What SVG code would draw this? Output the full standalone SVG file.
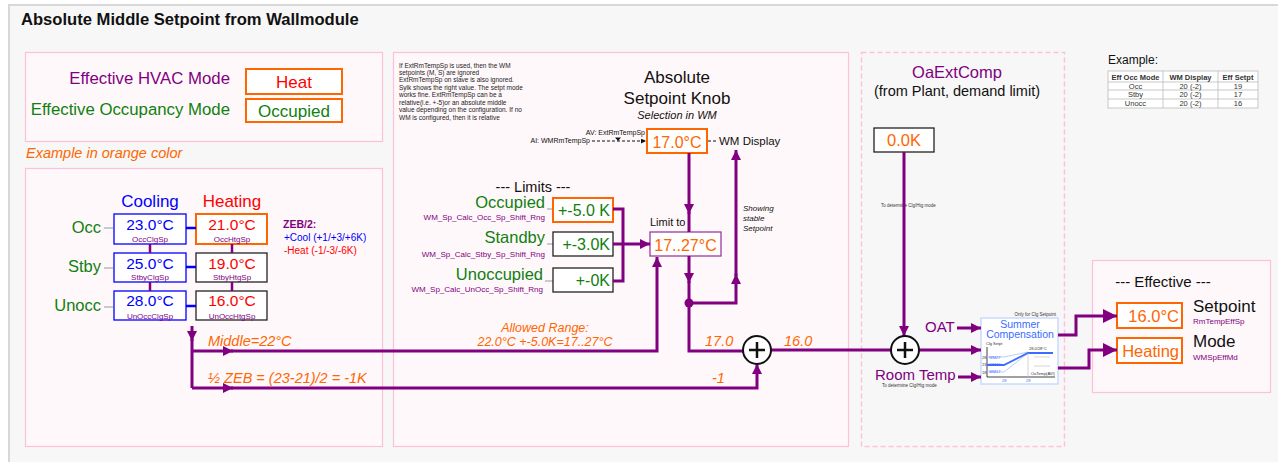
<svg xmlns="http://www.w3.org/2000/svg" width="1278" height="462" viewBox="0 0 1278 462">
<style>
text{font-family:"Liberation Sans",Arial,sans-serif}
.pu{fill:#800080}.gr{fill:#108010}.or{fill:#ff6600}.rd{fill:#ff0000}.bl{fill:#0000ff}.bk{fill:#111}
.it{font-style:italic}.b{font-weight:bold}
.mid{text-anchor:middle}.end{text-anchor:end}
.panel{fill:#fff8fa;stroke:#ffc0dc;stroke-width:1.2}
.box{fill:#fff;stroke:#222;stroke-width:1.3}
.obox{fill:#fff;stroke:#ff6600;stroke-width:2}
.cbox{fill:#fff;stroke:#0000ff;stroke-width:1.3}
.pbox{fill:#fff;stroke:#9b3aa0;stroke-width:1.3}
.wire{fill:none;stroke:#800080;stroke-width:3}
.arr{fill:none;stroke:#800080;stroke-width:3;marker-end:url(#ah)}
.arrL{fill:none;stroke:#800080;stroke-width:3;marker-end:url(#ahL)}
.tick{stroke:#999;stroke-width:1}
.tb{fill:#fff;stroke:#bbb;stroke-width:0.8}
</style>
<defs>
<marker id="ah" viewBox="0 0 10 10" refX="10" refY="5" markerWidth="10" markerHeight="10" orient="auto" markerUnits="userSpaceOnUse"><path d="M0,0L10,5L0,10Z" fill="#800080"/></marker>
<marker id="ahL" viewBox="0 0 14 14" refX="14" refY="7" markerWidth="14" markerHeight="14" orient="auto" markerUnits="userSpaceOnUse"><path d="M0,0L14,7L0,14Z" fill="#800080"/></marker>
<marker id="ahS" viewBox="0 0 6 6" refX="6" refY="3" markerWidth="5" markerHeight="5" orient="auto" markerUnits="userSpaceOnUse"><path d="M0,0L6,3L0,6Z" fill="#111"/></marker>
</defs>
<rect x="0" y="0" width="1278" height="462" fill="#fff"/>
<rect x="9" y="5" width="1290" height="480" fill="#f7f7f7" stroke="#d8d8d8" stroke-width="2"/>
<text x="21" y="24.5" font-size="16.6" class="b bk">Absolute Middle Setpoint from Wallmodule</text>

<!-- panels -->
<rect class="panel" x="25.5" y="52.5" width="357" height="89"/>
<rect class="panel" x="25.5" y="168.5" width="357" height="278"/>
<rect class="panel" x="393.5" y="52.5" width="455" height="394"/>
<rect x="861.5" y="52.5" width="203" height="394" fill="none" stroke="#ffc0dc" stroke-width="1.5" stroke-dasharray="5,3"/>
<rect class="panel" x="1092.5" y="260.5" width="178" height="132"/>

<g id="modes">
<text x="230" y="84" font-size="16.8" class="pu end">Effective HVAC Mode</text>
<text x="230" y="115" font-size="16.8" class="gr end">Effective Occupancy Mode</text>
<rect class="obox" x="246" y="69" width="96" height="25"/>
<text x="294" y="88" font-size="17" class="rd mid">Heat</text>
<rect class="obox" x="246" y="99" width="96" height="23"/>
<text x="294" y="117" font-size="17" class="gr mid">Occupied</text>
</g>
<text x="26" y="158" font-size="14.5" class="or it">Example in orange color</text>

<g id="setpoints">
<text x="150" y="207" font-size="17" class="bl mid">Cooling</text>
<text x="232" y="207" font-size="17" class="rd mid">Heating</text>
<text x="101" y="233" font-size="16.5" class="gr end">Occ</text>
<text x="101" y="272" font-size="16.5" class="gr end">Stby</text>
<text x="101" y="311" font-size="16.5" class="gr end">Unocc</text>
<path class="tick" d="M104,228H113M104,268H113M104,307H113"/>
<rect class="cbox" x="114" y="214" width="72" height="30"/>
<rect class="cbox" x="114" y="253" width="72" height="29"/>
<rect class="cbox" x="114" y="291" width="72" height="29"/>
<rect class="obox" x="196" y="214" width="71" height="30"/>
<rect class="box" x="196" y="253" width="71" height="29"/>
<rect class="box" x="196" y="291" width="71" height="29"/>
<text x="150" y="230" font-size="15.5" class="bl mid">23.0°C</text>
<text x="150" y="242" font-size="8" class="pu mid">OccClgSp</text>
<text x="150" y="268.5" font-size="15.5" class="bl mid">25.0°C</text>
<text x="150" y="280" font-size="8" class="pu mid">StbyClgSp</text>
<text x="150" y="306" font-size="15.5" class="bl mid">28.0°C</text>
<text x="150" y="318.5" font-size="8" class="pu mid">UnOccClgSp</text>
<text x="232" y="230" font-size="15.5" class="rd mid">21.0°C</text>
<text x="232" y="242" font-size="8" class="pu mid">OccHtgSp</text>
<text x="232" y="268.5" font-size="15.5" class="rd mid">19.0°C</text>
<text x="232" y="280" font-size="8" class="pu mid">StbyHtgSp</text>
<text x="232" y="306" font-size="15.5" class="rd mid">16.0°C</text>
<text x="232" y="318.5" font-size="8" class="pu mid">UnOccHtgSp</text>
<path d="M186,228H196M186,267H196M186,306H196" stroke="#0000ff" stroke-width="2.5"/>
<path d="M150,244V253M150,282V291M232,244V253M232,282V291" stroke="#800080" stroke-width="2.5"/>
<text x="283" y="228" font-size="10.5" class="pu b">ZEB/2:</text>
<text x="284" y="241" font-size="10" class="bl">+Cool (+1/+3/+6K)</text>
<text x="284" y="253.5" font-size="10" class="rd">-Heat (-1/-3/-6K)</text>
</g>
<text x="208" y="346" font-size="14.5" class="or it">Middle=22°C</text>
<text x="208" y="383" font-size="14.5" class="or it">½ ZEB = (23-21)/2 = -1K</text>

<g id="note" font-size="6.5" fill="#222">
<text x="399" y="67.5">If ExtRmTempSp is used, then the WM</text>
<text x="399" y="74.9">setpoints (M, S) are ignored</text>
<text x="399" y="82.4">ExtRmTempSp on slave is also ignored.</text>
<text x="399" y="89.8">Sylk shows the right value. The setpt mode</text>
<text x="399" y="97.2">works fine. ExtRmTempSp can be a</text>
<text x="399" y="104.7">relative(i.e. +-5)or an absolute middle</text>
<text x="399" y="112.1">value depending on the configuration. If no</text>
<text x="399" y="119.5">WM is configured, then it is relative</text>
</g>

<g id="knob">
<text x="677" y="83" font-size="17" class="bk mid">Absolute</text>
<text x="677" y="104" font-size="17" class="bk mid">Setpoint Knob</text>
<text x="677" y="119" font-size="11" class="bk mid it">Selection in WM</text>
<text x="590" y="143" font-size="7" class="bk end">AI: WMRmTempSp</text>
<text x="645" y="134.5" font-size="7" class="bk end">AV: ExtRmTempSp</text>
<path d="M592,141H646" stroke="#111" stroke-width="1" stroke-dasharray="3,2" marker-end="url(#ahS)"/>
<path d="M615,137.5H621L618,141Z" fill="#111"/>
<rect class="obox" x="647" y="129" width="60" height="24"/>
<text x="677" y="148" font-size="16" class="or mid">17.0°C</text>
<path d="M708,141H718" stroke="#111" stroke-width="1" stroke-dasharray="3,2"/>
<text x="719" y="145" font-size="11.5" class="bk">WM Display</text>
</g>

<g id="limits">
<text x="533" y="192" font-size="14.5" class="bk mid">--- Limits ---</text>
<text x="545" y="208" font-size="16.5" class="gr end">Occupied</text>
<text x="545" y="220" font-size="8" class="pu end">WM_Sp_Calc_Occ_Sp_Shift_Rng</text>
<text x="545" y="243" font-size="16.5" class="gr end">Standby</text>
<text x="545" y="257" font-size="8" class="pu end">WM_Sp_Calc_Stby_Sp_Shift_Rng</text>
<text x="543" y="280" font-size="16.5" class="gr end">Unoccupied</text>
<text x="543" y="292" font-size="8" class="pu end">WM_Sp_Calc_UnOcc_Sp_Shift_Rng</text>
<path class="tick" d="M547,209H553M547,244H553M545,281H553"/>
<rect class="obox" x="553" y="198" width="60" height="24"/>
<rect class="box" x="553" y="232" width="60" height="24"/>
<rect class="box" x="553" y="268" width="60" height="24"/>
<text x="610" y="216" font-size="16" class="gr end">+-5.0 K</text>
<text x="610" y="250" font-size="16" class="gr end">+-3.0K</text>
<text x="610" y="286" font-size="16" class="gr end">+-0K</text>
</g>

<g id="limitTo">
<text x="650" y="226" font-size="11" class="bk">Limit to</text>
<rect class="pbox" x="650" y="232" width="71" height="24"/>
<text x="685.5" y="251" font-size="16" class="or mid">17..27°C</text>
<text x="743" y="211" font-size="8" class="bk it">Showing</text>
<text x="743" y="221" font-size="8" class="bk it">stable</text>
<text x="743" y="231" font-size="8" class="bk it">Setpoint</text>
<text x="545" y="332" font-size="12.5" class="or it mid">Allowed Range:</text>
<text x="545" y="346" font-size="12.5" class="or it mid">22.0°C +-5.0K=17..27°C</text>
<text x="705" y="346" font-size="14.5" class="or it">17.0</text>
<text x="784" y="346" font-size="14.5" class="or it">16.0</text>
<text x="712" y="383" font-size="14.5" class="or it">-1</text>
</g>

<g id="oaext">
<text x="957" y="78" font-size="16.5" class="pu mid">OaExtComp</text>
<text x="957" y="96" font-size="14.5" class="bk mid">(from Plant, demand limit)</text>
<rect class="box" x="874" y="128" width="60" height="24"/>
<text x="904" y="146" font-size="16.5" class="or mid">0.0K</text>
<text x="881" y="207" font-size="4.5" fill="#333">To determine Clg/Htg mode</text>
<text x="925" y="332" font-size="15" class="pu">OAT</text>
<text x="875" y="380" font-size="15" class="pu">Room Temp</text>
<text x="882" y="386.5" font-size="4.5" fill="#333">To determine Clg/Htg mode</text>
</g>

<g id="summer">
<text x="1056" y="316" font-size="4.5" fill="#333" class="end">Only for Clg Setpoint</text>
<rect x="981" y="318" width="77" height="66" fill="#fff" stroke="#c4d4ff" stroke-width="1.3"/>
<text x="1020" y="328" font-size="10.5" fill="#3a6cff" class="mid">Summer</text>
<text x="1020" y="338" font-size="10.5" fill="#3a6cff" class="mid">Compensation</text>
<text x="986" y="345" font-size="4" fill="#333">Clg Setpt</text>
<path d="M987,347V377H1055" fill="none" stroke="#111" stroke-width="0.8"/>
<path d="M987,357H1004L1028,352M987,372H1004L1028,353" fill="none" stroke="#a8c0ff" stroke-width="0.8"/>
<path d="M987,365H1004L1028,353H1053" fill="none" stroke="#3a6cff" stroke-width="1.8"/>
<path d="M1028,353V377M1034,357H1050M1034,366H1050" fill="none" stroke="#bbb" stroke-width="0.6"/>
<text x="989" y="359" font-size="4" fill="#3a6cff">WM27</text>
<text x="989" y="366" font-size="4" fill="#3a6cff">WM22</text>
<text x="989" y="373" font-size="4" fill="#3a6cff">WM17</text>
<text x="982" y="359" font-size="4" fill="#333">28</text>
<text x="982" y="366" font-size="4" fill="#333">23</text>
<text x="982" y="374" font-size="4" fill="#333">18</text>
<text x="1029" y="350" font-size="4" fill="#333">28.0/28°C</text>
<text x="1031" y="375" font-size="4" fill="#333">OaTemp(AVI)</text>
<text x="1002" y="382" font-size="4" fill="#3a6cff">28</text>
<text x="1026" y="382" font-size="4" fill="#3a6cff">28</text>
</g>

<g id="example">
<text x="1108" y="64" font-size="12" class="bk">Example:</text>
<rect class="tb" x="1108" y="71" width="150" height="37"/>
<path d="M1163,71V108M1218,71V108M1108,82H1258M1108,90H1258M1108,99H1258" stroke="#bbb" stroke-width="0.8"/>
<g font-size="7.5" fill="#333" class="mid">
<text x="1135.5" y="79.5" class="b">Eff Occ Mode</text>
<text x="1190.5" y="79.5" class="b">WM Display</text>
<text x="1238" y="79.5" class="b">Eff Setpt</text>
<text x="1135.5" y="88.5">Occ</text><text x="1190.5" y="88.5">20 (-2)</text><text x="1238" y="88.5">19</text>
<text x="1135.5" y="97">Stby</text><text x="1190.5" y="97">20 (-2)</text><text x="1238" y="97">17</text>
<text x="1135.5" y="106">Unocc</text><text x="1190.5" y="106">20 (-2)</text><text x="1238" y="106">16</text>
</g>
</g>

<g id="effective">
<text x="1163" y="287" font-size="15" class="bk mid">--- Effective ---</text>
<rect class="obox" x="1117" y="303" width="65" height="25"/>
<text x="1179" y="322" font-size="16.5" class="or end">16.0°C</text>
<text x="1193" y="312" font-size="17" class="bk">Setpoint</text>
<text x="1193" y="323.5" font-size="8" class="pu">RmTempEffSp</text>
<rect class="obox" x="1117" y="338" width="65" height="25"/>
<text x="1179" y="357" font-size="16.5" class="or end">Heating</text>
<text x="1193" y="347" font-size="17" class="bk">Mode</text>
<text x="1193" y="360" font-size="8" class="pu">WMSpEffMd</text>
</g>

<g id="connectors">
<path class="wire" d="M613,209H623V281H613"/>
<path class="arr" d="M613,244H650"/>
<path class="arr" d="M689,153V214"/>
<path class="wire" d="M689,212V232"/>
<path class="arr" d="M689,256V283"/>
<path class="wire" d="M689,281V351H743"/>
<circle cx="689" cy="303" r="4.5" fill="#800080"/>
<path class="arr" d="M689,303H736V274"/>
<path class="arr" d="M736,276V150"/>
<path class="arr" d="M192,326V341"/>
<path class="wire" d="M192,339V388"/>
<path class="arr" d="M192,351H233"/>
<path class="arr" d="M231,351H657V257"/>
<path class="arr" d="M192,388H233"/>
<path class="arr" d="M231,388H757V364"/>
<path class="wire" d="M771,350H891"/>
<path class="arr" d="M904,152V336"/>
<path class="arr" d="M919,350H981"/>
<path class="arr" d="M957,328H981"/>
<path class="arr" d="M958,377H981"/>
<path class="arrL" d="M1058,335H1076V316H1117"/>
<path class="arrL" d="M1058,368H1089V350H1117"/>
</g>

<g id="sum1">
<circle cx="757" cy="350" r="14" fill="#fff" stroke="#111" stroke-width="2"/>
<path d="M749,350H765M757,342V358" stroke="#111" stroke-width="2.5"/>
</g>
<g id="sum2">
<circle cx="905" cy="350" r="14" fill="#fff" stroke="#111" stroke-width="2"/>
<path d="M897,350H913M905,342V358" stroke="#111" stroke-width="2.5"/>
</g>
</svg>
